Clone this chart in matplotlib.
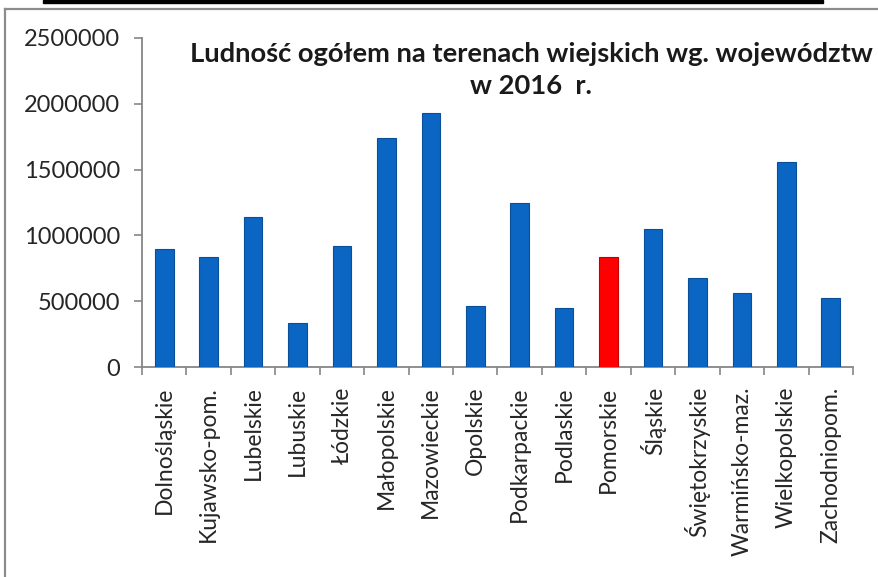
import matplotlib
matplotlib.use("Agg")
import matplotlib.pyplot as plt
from matplotlib.patches import Rectangle
from matplotlib.lines import Line2D
import numpy as np

categories = ["Dolnośląskie", "Kujawsko-pom.", "Lubelskie", "Lubuskie", "Łódzkie",
              "Małopolskie", "Mazowieckie", "Opolskie", "Podkarpackie", "Podlaskie",
              "Pomorskie", "Śląskie", "Świętokrzyskie", "Warmińsko-maz.",
              "Wielkopolskie", "Zachodniopom."]
values = [897000, 836000, 1140000, 334000, 919000, 1740000, 1930000, 463000,
          1246000, 448000, 836000, 1049000, 676000, 562000, 1558000, 524000]
highlight = "Pomorskie"
yticks = [0, 500000, 1000000, 1500000, 2000000, 2500000]
title = "Ludność ogółem na terenach wiejskich wg. województw\nw 2016  r."

plt.rcParams['font.family'] = ['Lato', 'DejaVu Sans']

W, H = 879, 577
fig = plt.figure(figsize=(W / 100, H / 100), dpi=100)
ax = fig.add_axes([142 / W, 1 - 367 / H, (853 - 142) / W, (367 - 38) / H])

x = np.arange(len(categories))
colors = ['#ff0000' if c == highlight else '#0a66c2' for c in categories]
edges = ['#c00000' if c == highlight else '#0a4f9a' for c in categories]
ax.bar(x, values, width=0.42, color=colors, edgecolor=edges, linewidth=0.8, zorder=3)

ax.set_xlim(-0.5, len(categories) - 0.5)
ax.set_ylim(0, 2500000)
ax.set_yticks(yticks)
ax.set_yticklabels([str(v) for v in yticks], fontsize=17, color='#262626')
ax.set_xticks(x)
ax.set_xticklabels(categories, rotation=90, fontsize=16.5, color='#262626', va='top')
ax.set_xticks(np.arange(-0.5, len(categories)), minor=True)
ax.tick_params(axis='x', which='major', length=0, pad=14)
ax.tick_params(axis='x', which='minor', length=6, width=1.2, color='#868686', direction='out')
ax.tick_params(axis='y', which='major', length=6, width=1.2, color='#868686', pad=10)

for s in ['top', 'right']:
    ax.spines[s].set_visible(False)
for s in ['left', 'bottom']:
    ax.spines[s].set_color('#868686')
    ax.spines[s].set_linewidth(1.3)

fig.text(531 / W, 1 - 70 / H, title, ha='center', va='center', fontsize=19.7,
         fontweight='bold', color='#1a1a1a', linespacing=1.45)

# chart frame and top black bar
fig.add_artist(Line2D([5.5 / W, 5.5 / W], [0, 1 - 9 / H], transform=fig.transFigure,
                      color='#8c8c8c', linewidth=1.6))
fig.add_artist(Line2D([5 / W, 1], [1 - 9 / H, 1 - 9 / H], transform=fig.transFigure,
                      color='#8c8c8c', linewidth=1.6))
fig.add_artist(Rectangle((43 / W, 1 - 3 / H), (823 - 43) / W, 3 / H,
                         transform=fig.transFigure, color='black'))

fig.savefig("out.png", dpi=100)
